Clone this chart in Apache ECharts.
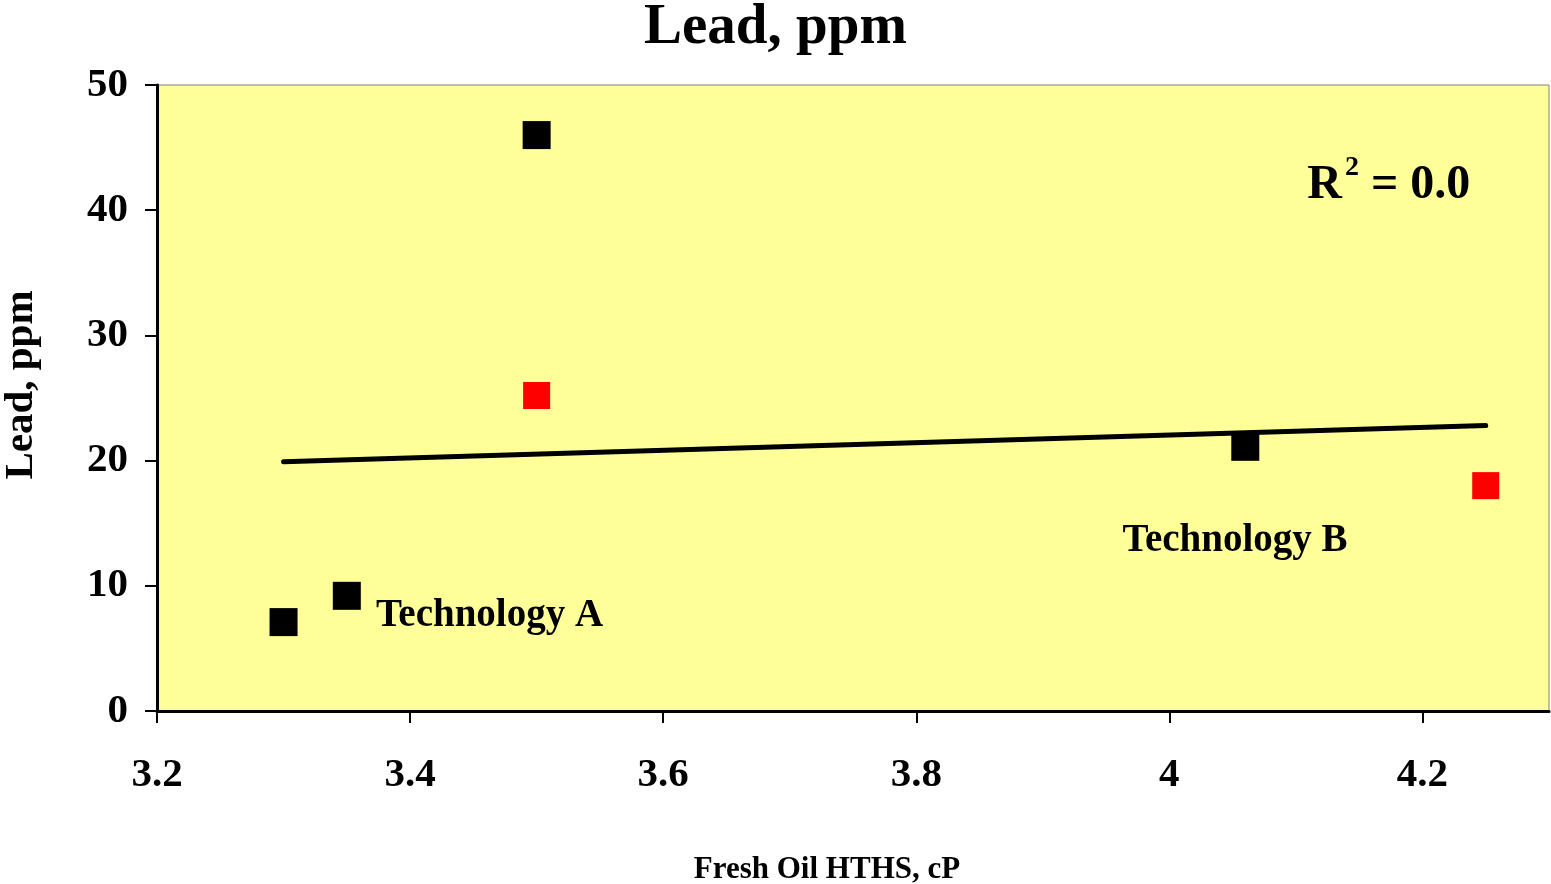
<!DOCTYPE html>
<html>
<head>
<meta charset="utf-8">
<script src="https://cdn.jsdelivr.net/npm/echarts@6/dist/echarts.min.js"></script>
<style>
  html, body { margin: 0; padding: 0; background: #fff; }
  #main { width: 1551px; height: 884px; }
</style>
</head>
<body>
<div id="main"></div>
<script>
// data
var blackPoints = [[3.30, 7.1], [3.35, 9.2], [3.50, 46.0], [4.06, 21.1]];
var redPoints = [[3.50, 25.2], [4.25, 18.0]];
var trendLine = [[3.30, 19.9], [4.25, 22.8]];
var xTicks = [3.2, 3.4, 3.6, 3.8, 4, 4.2];
var yTicks = [0, 10, 20, 30, 40, 50];
// text notes placed in data coordinates
var notes = [
  { value: [3.373, 7.6], text: 'Technology A' },
  { value: [3.963, 13.6], text: 'Technology B' },
  { value: [4.109, 42.3], text: '{r|R}{s|2}{r| = 0.0}' }
];

var FONT = "'Liberation Serif', 'Times New Roman', serif";

var myChart = echarts.init(document.getElementById('main'));
myChart.setOption({
  backgroundColor: '#ffffff',
  animation: false,
  title: {
    text: 'Lead, ppm',
    left: 'center',
    top: -5,
    textStyle: { fontFamily: FONT, fontWeight: 'bold', fontSize: 57, color: '#000' }
  },
  grid: {
    left: 157, top: 85, right: 2, bottom: 173,
    outerBoundsMode: 'none',
    containLabel: false,
    show: true,
    backgroundColor: '#ffff99',
    borderColor: '#808080',
    borderWidth: 1
  },
  xAxis: {
    type: 'value',
    min: 3.2,
    max: 4.3,
    interval: 0.2,
    name: 'Fresh Oil HTHS, cP',
    nameLocation: 'middle',
    nameGap: 143,
    nameTextStyle: { fontFamily: FONT, fontWeight: 'bold', fontSize: 31, color: '#000', padding: [0, 52, 0, 0] },
    axisLine: { show: true, lineStyle: { color: '#000', width: 3 } },
    axisTick: { show: true, length: 12, lineStyle: { color: '#000', width: 2 } },
    splitLine: { show: false },
    axisLabel: {
      margin: 44,
      fontFamily: FONT, fontWeight: 'bold', fontSize: 41, color: '#000',
      showMaxLabel: false,
      formatter: function (v) {
        var r = Math.round(v * 10) / 10;
        return xTicks.indexOf(r) >= 0 ? String(r) : '';
      }
    }
  },
  yAxis: {
    type: 'value',
    min: 0,
    max: 50,
    interval: 10,
    name: 'Lead, ppm',
    nameLocation: 'middle',
    nameGap: 115,
    nameTextStyle: { fontFamily: FONT, fontWeight: 'bold', fontSize: 41, color: '#000', padding: [0, 0, 0, 26] },
    axisLine: { show: true, lineStyle: { color: '#000', width: 3 } },
    axisTick: { show: true, length: 12, lineStyle: { color: '#000', width: 2 } },
    splitLine: { show: false },
    axisLabel: {
      margin: 29,
      fontFamily: FONT, fontWeight: 'bold', fontSize: 41, color: '#000',
      formatter: function (v) { return yTicks.indexOf(v) >= 0 ? String(v) : ''; }
    }
  },
  series: [
    {
      type: 'line',
      data: trendLine,
      showSymbol: false,
      symbol: 'none',
      lineStyle: { color: '#000', width: 5, cap: 'round' },
      z: 2
    },
    {
      type: 'scatter',
      data: blackPoints,
      symbol: 'rect',
      symbolSize: 28,
      itemStyle: { color: '#000', opacity: 1 },
      z: 3
    },
    {
      type: 'scatter',
      data: redPoints,
      symbol: 'rect',
      symbolSize: 27,
      itemStyle: { color: '#ff0000', opacity: 1 },
      z: 3
    },
    {
      type: 'scatter',
      symbolSize: 0,
      silent: true,
      itemStyle: { opacity: 1 },
      data: notes.map(function (n) { return { value: n.value, name: n.text }; }),
      label: {
        show: true,
        position: 'right',
        distance: 0,
        formatter: function (p) { return p.name; },
        fontFamily: FONT, fontWeight: 'bold', fontSize: 39, color: '#000',
        rich: {
          r: { fontFamily: FONT, fontWeight: 'bold', fontSize: 48, color: '#000', verticalAlign: 'bottom' },
          s: { fontFamily: FONT, fontWeight: 'bold', fontSize: 28, color: '#000', verticalAlign: 'top', padding: [0, 0, 28, 3] }
        }
      },
      z: 4
    }
  ]
});
</script>
</body>
</html>
